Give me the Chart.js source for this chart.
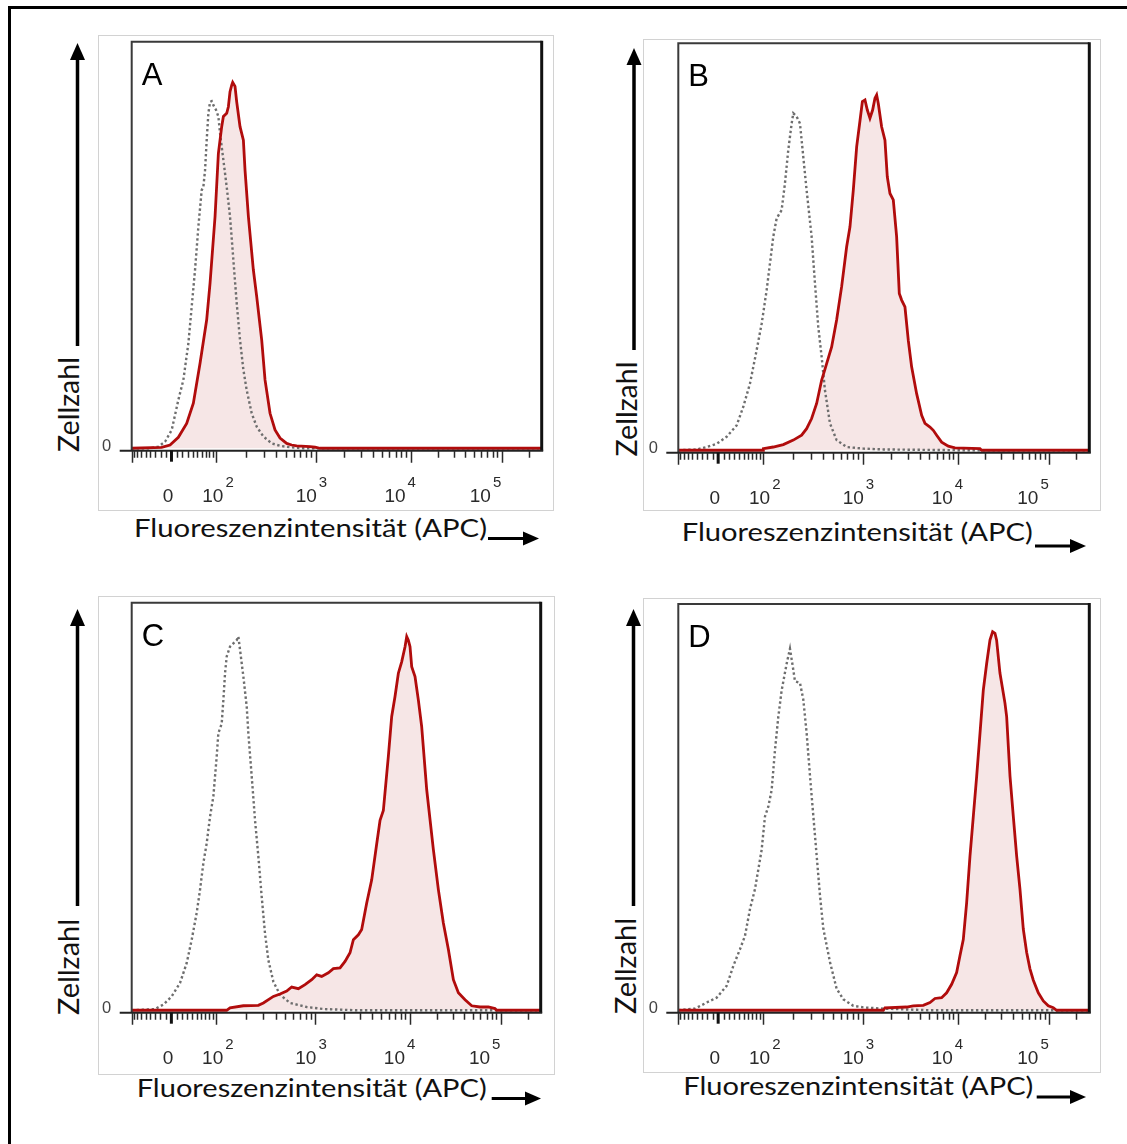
<!DOCTYPE html>
<html>
<head>
<meta charset="utf-8">
<script src="https://cdn.jsdelivr.net/npm/chart.js@4.4.1/dist/chart.umd.min.js"></script>
<style>
html, body { margin: 0; padding: 0; background: #fff; }
body { width: 1127px; height: 1144px; position: relative; overflow: hidden; }
#outer { position: absolute; left: 8px; top: 6px; width: 1300px; height: 1300px; border: 3px solid #000; }
#notes { position: absolute; left: 0; top: 0; }
canvas.panel { position: absolute; }
</style>
</head>
<body>
<div id="outer"></div>

<svg id="notes" width="1127" height="1144" font-family="Lato, 'Open Sans', sans-serif" fill="#111">
  <!-- y arrows + Zellzahl -->
  <line x1="77.5" y1="346" x2="77.5" y2="58" stroke="#000" stroke-width="3.5"/>
  <polygon points="70,60 85,60 77.5,43" fill="#000"/>
  <text transform="translate(78.5,452) rotate(-90)" font-size="29.5" textLength="95" lengthAdjust="spacingAndGlyphs">Zellzahl</text>

  <line x1="634" y1="350" x2="634" y2="63" stroke="#000" stroke-width="3.5"/>
  <polygon points="626.5,65 641.5,65 634,48" fill="#000"/>
  <text transform="translate(636.5,456.5) rotate(-90)" font-size="29.5" textLength="95" lengthAdjust="spacingAndGlyphs">Zellzahl</text>

  <line x1="77.5" y1="906" x2="77.5" y2="624" stroke="#000" stroke-width="3.5"/>
  <polygon points="70,626 85,626 77.5,609" fill="#000"/>
  <text transform="translate(79,1015) rotate(-90)" font-size="29.5" textLength="96" lengthAdjust="spacingAndGlyphs">Zellzahl</text>

  <line x1="633.5" y1="906" x2="633.5" y2="624" stroke="#000" stroke-width="3.5"/>
  <polygon points="626,626 641,626 633.5,609" fill="#000"/>
  <text transform="translate(636,1014) rotate(-90)" font-size="29.5" textLength="96" lengthAdjust="spacingAndGlyphs">Zellzahl</text>

  <!-- x titles + arrows -->
  <text x="134" y="537" font-size="25.5" textLength="353" lengthAdjust="spacingAndGlyphs">Fluoreszenzintensität (APC)</text>
  <line x1="488" y1="538.5" x2="525" y2="538.5" stroke="#000" stroke-width="3"/>
  <polygon points="523,531.5 523,545.5 539,538.5" fill="#000"/>

  <text x="681.7" y="541" font-size="25.5" textLength="351" lengthAdjust="spacingAndGlyphs">Fluoreszenzintensität (APC)</text>
  <line x1="1035" y1="546" x2="1072" y2="546" stroke="#000" stroke-width="3"/>
  <polygon points="1070,539 1070,553 1086,546" fill="#000"/>

  <text x="136.7" y="1097" font-size="25.5" textLength="350" lengthAdjust="spacingAndGlyphs">Fluoreszenzintensität (APC)</text>
  <line x1="491.7" y1="1098.5" x2="527" y2="1098.5" stroke="#000" stroke-width="3"/>
  <polygon points="525,1091.5 525,1105.5 541,1098.5" fill="#000"/>

  <text x="683.3" y="1095" font-size="25.5" textLength="350" lengthAdjust="spacingAndGlyphs">Fluoreszenzintensität (APC)</text>
  <line x1="1036.7" y1="1097" x2="1072" y2="1097" stroke="#000" stroke-width="3"/>
  <polygon points="1070,1090 1070,1104 1086,1097" fill="#000"/>
</svg>

<script>
// x values are display channels (0-1000) of the biexponential APC axis,
// y values are cell counts in % of the plot height

// tick labels of the x axis
const majorTickValues = [0, 100, 1000, 10000, 100000];
const majorTickBase = ['0', '10', '10', '10', '10'];
const majorTickExp = ['', '2', '3', '4', '5'];

// axis transform: channel of 0 and of each decade 10^2..10^5
const zeroChannel = 97;
const decadeChannels = [206, 449, 680, 902];

// panel A
const aStained = [[0,0],[73,0.2],[93.5,0.8],[113.8,2.7],[134.1,6.1],[150.4,11.1],[166.7,20.9],[182.9,31.6],[191.1,40.6],[203.3,57.0],[211.4,72.5],[219.5,79.1],[223.6,81.6],[231.7,82.4],[235.8,84.0],[239.8,87.7],[243.9,89.3],[246.3,90.0],[252.0,89.0],[256.1,85.2],[264.2,79.1],[272.4,75.8],[276.4,68.4],[284.6,57.0],[296.7,43.9],[304.9,37.3],[317.1,26.6],[325.2,16.8],[337.4,8.6],[349.6,4.5],[361.8,2.5],[378,1.2],[390.2,0.8],[402.4,0.6],[435,0.4],[447.2,0.25],[459.3,0],[1000,0]];
const aControl = [[0,0],[44.7,0],[65,0.4],[81.3,1.6],[97.6,4.5],[113.8,11.9],[126,16.8],[138.2,25.8],[146.3,34.8],[154.5,43.9],[162.6,54.5],[170.7,63.5],[174.8,64.3],[178.9,68.4],[182.9,75.8],[187,82.4],[191.1,85.2],[195.1,85.4],[199.2,84.4],[205.7,83.2],[211.4,81.6],[215.4,77.5],[223.6,70.9],[231.7,64.3],[239.8,57.0],[248,46.3],[256.1,35.7],[264.2,26.6],[272.4,19.3],[280.5,14.3],[292.7,8.6],[304.9,5.3],[321.1,2.9],[341.5,1.2],[361.8,0.6],[386.2,0.25],[418.7,0],[1000,0]];

// panel B
const bStained = [[0,0],[206.8,0],[207,0.4],[231.1,0.8],[255.5,1.4],[279.8,2.5],[300.1,3.7],[312.2,5.3],[324.4,7.8],[336.6,11.5],[348.7,17.2],[360.9,21.3],[373.1,25.4],[385.2,32.0],[397.4,40.2],[409.6,50.0],[417.7,54.9],[425.8,63.9],[434,74.6],[442.2,81.1],[447.9,85.7],[454.2,86.1],[459.9,83.6],[466.3,81.6],[472.8,83.6],[478.5,86.5],[482.6,87.3],[486.6,85.2],[494.7,79.5],[502.8,76.2],[508.5,67.2],[515,63.1],[523.1,61.5],[531.2,52.5],[537.7,38.5],[543.4,36.9],[551.5,35.2],[559.6,27.0],[567.7,20.5],[579.9,13.9],[592.1,8.6],[600.2,6.6],[612.3,5.7],[620.4,4.9],[628.6,3.7],[640.7,2.0],[656.9,1.0],[673.2,0.6],[734,0.4],[738,0],[1000,0]];
const bControl = [[0,0],[44.6,0.2],[68.9,0.8],[93.3,1.6],[117.6,3.3],[141.9,6.1],[158.2,10.7],[174.4,16.4],[190.6,24.6],[202.8,31.1],[214.9,39.3],[223,45.9],[231.1,52.5],[239.3,57.0],[251.4,59.0],[259.5,65.6],[267.6,73.8],[275.8,80.3],[279.8,82.8],[287.9,82.0],[296,80.3],[304.1,72.1],[312.2,63.9],[324.4,52.5],[332.5,41.0],[340.6,30.3],[348.7,23.0],[356.8,14.8],[369,6.6],[385.2,2.5],[409.6,0.8],[450.1,0.4],[498.8,0.2],[693.4,0],[1000,0]];

// panel C
const cStained = [[0,0],[232.3,0],[240.4,0.6],[273,1.1],[309.7,1.2],[321.9,1.8],[346.4,3.4],[362.7,4.0],[379,4.7],[391.2,5.7],[407.5,5.3],[423.8,6.3],[440.1,7.5],[452.3,8.7],[464.5,8.3],[480.8,9.2],[493.1,10.2],[509.4,10.4],[521.6,12.0],[533.8,14.1],[542,17.3],[554.2,18.5],[562.3,19.8],[574.6,26.3],[586.8,32.0],[599,40.8],[607.2,46.6],[615.3,49.0],[627.5,62.3],[635.7,72.1],[643.8,77.0],[652,82.7],[660.1,85.5],[668.3,89.2],[672.4,91.7],[676.4,90.8],[680.5,89.2],[684.6,84.3],[692.7,81.9],[700.9,76.1],[709,69.6],[721.3,54.1],[737.6,39.4],[749.8,29.6],[762,21.4],[774.3,14.9],[786.5,7.5],[798.7,4.3],[815,2.6],[831.3,1.1],[851.7,0.8],[872,0.8],[888.3,0.4],[892.4,0],[1000,0]];
const cControl = [[0,0],[57,0.3],[77.4,1.4],[97.8,3.4],[118.2,6.7],[134.5,11.6],[146.7,17.3],[158.9,23.9],[167.1,29.6],[175.2,36.1],[183.4,41.0],[191.5,47.5],[199.7,52.5],[207.8,62.3],[211.9,68.0],[220,70.3],[224.1,76.1],[228.2,82.7],[232.3,86.8],[240.4,89.2],[248.6,90.0],[256.7,90.8],[260.8,91.7],[264.9,88.4],[273,81.9],[281.2,74.5],[285.2,68.0],[293.4,57.4],[301.5,46.7],[309.7,37.7],[317.8,27.9],[326,18.8],[334.1,12.3],[346.4,7.0],[362.7,3.8],[387.1,1.8],[427.9,0.8],[468.6,0.3],[550,0],[1000,0]];

// panel D
const dStained = [[0,0],[498.8,0],[502.8,0.6],[555.6,0.8],[571.8,1.1],[596.1,1.2],[612.3,1.9],[624.5,2.9],[640.7,3.1],[652.9,4.3],[665.1,6.4],[677.2,9.3],[685.3,13.4],[693.4,17.4],[701.5,26.4],[709.6,37.8],[717.8,47.7],[725.9,57.5],[734,68.1],[742.1,78.8],[750.2,85.3],[758.3,91.1],[764.8,93.2],[770.5,92.8],[774.5,91.1],[782.6,83.0],[794.8,75.6],[798.9,72.3],[807,57.7],[815.1,47.7],[823.2,38.0],[831.3,29.8],[839.4,20.0],[847.5,14.3],[855.6,10.2],[863.8,7.4],[875.9,4.3],[888.1,2.3],[900.2,1.1],[912.4,0.6],[920.5,0],[1000,0]];
const dControl = [[0,0],[40.6,0.4],[68.9,1.9],[93.3,3.1],[117.6,6.0],[133.8,10.9],[150,15.0],[162.2,18.3],[174.4,24.9],[186.5,29.8],[194.6,34.6],[202.8,39.5],[210.9,47.7],[219,50.1],[227.1,54.2],[235.2,64.0],[243.3,72.2],[251.4,78.7],[263.6,85.3],[271.7,89.0],[279.8,83.8],[283.9,81.0],[296,80.6],[304.1,76.5],[312.2,68.3],[320.4,57.7],[328.5,47.9],[336.6,38.1],[344.7,28.3],[352.8,20.1],[369,11.9],[385.2,5.3],[401.5,2.7],[425.8,1.1],[450.1,0.7],[498.8,0.4],[612.3,0],[1000,0]];

// where each exported FlowJo panel sits on the page
const panels = [
    { letter: 'A', box: [98, 35, 456, 476], frame: [131.7, 41.7, 541.7, 450.7], stained: aStained, control: aControl },
    { letter: 'B', box: [643, 39, 458, 472], frame: [678.3, 43.3, 1089.3, 452.7], stained: bStained, control: bControl },
    { letter: 'C', box: [98, 596, 457, 479], frame: [131.7, 602.7, 540.7, 1012.7], stained: cStained, control: cControl },
    { letter: 'D', box: [643, 598, 458, 475], frame: [678.3, 604, 1089.3, 1012.7], stained: dStained, control: dControl }
];

// intensity -> display channel (biexponential-like)
function toChannel(v) {
    if (v >= 100) {
        const lg = Math.log10(v);
        let i = Math.min(Math.floor(lg) - 2, 2);
        const c0 = decadeChannels[i], c1 = decadeChannels[i + 1];
        return c0 + (lg - (i + 2)) * (c1 - c0);
    }
    return zeroChannel + (decadeChannels[0] - zeroChannel) * Math.asinh(v / 70) / Math.asinh(100 / 70);
}

function minorTickValues() {
    const vals = [];
    for (let k = -80; k <= 90; k += 10) if (k !== 0) vals.push(k);
    for (let d = 100; d <= 100000; d *= 10) {
        for (let m = 2; m <= 9; m++) {
            if (d * m < 262144) vals.push(d * m);
        }
    }
    return vals;
}

const LABEL_FONT = '"Liberation Sans", Arial, sans-serif';

const flowAxes = {
    id: 'flowAxes',
    beforeDraw(chart) {
        const ctx = chart.ctx;
        ctx.save();
        ctx.strokeStyle = '#d2d2d2';
        ctx.lineWidth = 1;
        ctx.strokeRect(0.5, 0.5, chart.width - 1, chart.height - 1);
        ctx.restore();
    },
    afterDraw(chart, args, opts) {
        const ctx = chart.ctx;
        const a = chart.chartArea;
        const x = chart.scales.x;
        ctx.save();

        // frame
        ctx.strokeStyle = '#3a3a3a';
        ctx.lineWidth = 2;
        ctx.beginPath();
        ctx.moveTo(a.left, a.bottom);
        ctx.lineTo(a.left, a.top);
        ctx.lineTo(a.right, a.top);
        ctx.stroke();
        ctx.strokeStyle = '#111';
        ctx.lineWidth = 3;
        ctx.beginPath();
        ctx.moveTo(a.right, a.top - 1);
        ctx.lineTo(a.right, a.bottom);
        ctx.stroke();

        // x axis line, also the little zero tick of the y axis
        ctx.strokeStyle = '#222';
        ctx.lineWidth = 2;
        ctx.beginPath();
        ctx.moveTo(a.left - 12, a.bottom);
        ctx.lineTo(a.right + 1.5, a.bottom);
        ctx.stroke();

        // ticks
        ctx.strokeStyle = '#2a2a2a';
        ctx.lineWidth = 1.5;
        ctx.beginPath();
        minorTickValues().forEach(v => {
            const px = Math.round(x.getPixelForValue(toChannel(v))) + 0.5;
            ctx.moveTo(px, a.bottom);
            ctx.lineTo(px, a.bottom + 7);
        });
        const majors = [x.getPixelForValue(0)].concat(majorTickValues.slice(1).map(v => x.getPixelForValue(toChannel(v))));
        majors.forEach(px => {
            px = Math.round(px) + 0.5;
            ctx.moveTo(px, a.bottom);
            ctx.lineTo(px, a.bottom + 12);
        });
        ctx.stroke();
        // zero marker
        const zpx = x.getPixelForValue(toChannel(0));
        ctx.strokeStyle = '#111';
        ctx.lineWidth = 3;
        ctx.beginPath();
        ctx.moveTo(zpx, a.bottom);
        ctx.lineTo(zpx, a.bottom + 11);
        ctx.stroke();

        // tick labels
        ctx.fillStyle = '#2a2a2a';
        ctx.textBaseline = 'alphabetic';
        majorTickValues.forEach((v, i) => {
            const px = x.getPixelForValue(toChannel(v));
            ctx.font = '19px ' + LABEL_FONT;
            if (!majorTickExp[i]) {
                ctx.textAlign = 'center';
                ctx.fillText(majorTickBase[i], px - 3.4, a.bottom + 51);
                return;
            }
            const w1 = ctx.measureText(majorTickBase[i]).width;
            ctx.font = '15px ' + LABEL_FONT;
            const w2 = ctx.measureText(majorTickExp[i]).width;
            const gap = 2;
            const center = px + 7.1 - 0.0624 * (px - a.left);
            const start = center - (w1 + gap + w2) / 2;
            ctx.textAlign = 'left';
            ctx.font = '19px ' + LABEL_FONT;
            ctx.fillText(majorTickBase[i], start, a.bottom + 51);
            ctx.font = '15px ' + LABEL_FONT;
            ctx.fillText(majorTickExp[i], start + w1 + gap, a.bottom + 36);
        });

        // y zero label
        ctx.fillStyle = '#444';
        ctx.font = '16.5px ' + LABEL_FONT;
        ctx.textAlign = 'center';
        ctx.fillText('0', a.left - 25, a.bottom);

        // panel letter
        ctx.fillStyle = '#000';
        ctx.font = '31px ' + LABEL_FONT;
        ctx.textAlign = 'left';
        ctx.fillText(opts.letter, a.left + 10, a.top + 43);

        ctx.restore();
    }
};

function toPoints(pairs) {
    return pairs.map(p => ({ x: p[0], y: p[1] }));
}

panels.forEach(p => {
    const [bx, by, bw, bh] = p.box;
    const [fl, ft, fr, fb] = p.frame;
    const canvas = document.createElement('canvas');
    canvas.className = 'panel';
    canvas.width = bw;
    canvas.height = bh;
    canvas.style.left = bx + 'px';
    canvas.style.top = by + 'px';
    document.body.appendChild(canvas);

    new Chart(canvas.getContext('2d'), {
        type: 'line',
        data: {
            datasets: [{
                label: 'APC',
                data: toPoints(p.stained),
                borderColor: '#b10c0c',
                borderWidth: 2.8,
                backgroundColor: '#f6e6e6',
                fill: 'origin',
                tension: 0,
                order: 1
            }, {
                label: 'Kontrolle',
                data: toPoints(p.control),
                borderColor: '#6e6e6e',
                borderWidth: 2.4,
                borderDash: [2.4, 2.6],
                fill: false,
                tension: 0,
                order: 2
            }]
        },
        options: {
            responsive: false,
            maintainAspectRatio: false,
            animation: false,
            devicePixelRatio: 1,
            layout: {
                padding: { left: fl - bx, top: ft - by, right: bx + bw - fr, bottom: by + bh - fb }
            },
            elements: { point: { radius: 0 } },
            scales: {
                x: { type: 'linear', min: 0, max: 1000, display: false },
                y: { type: 'linear', min: -0.6, max: 100, display: false }
            },
            plugins: {
                legend: { display: false },
                tooltip: { enabled: false },
                filler: { drawTime: 'beforeDatasetsDraw' },
                flowAxes: { letter: p.letter }
            }
        },
        plugins: [flowAxes]
    });
});
</script>
</body>
</html>
